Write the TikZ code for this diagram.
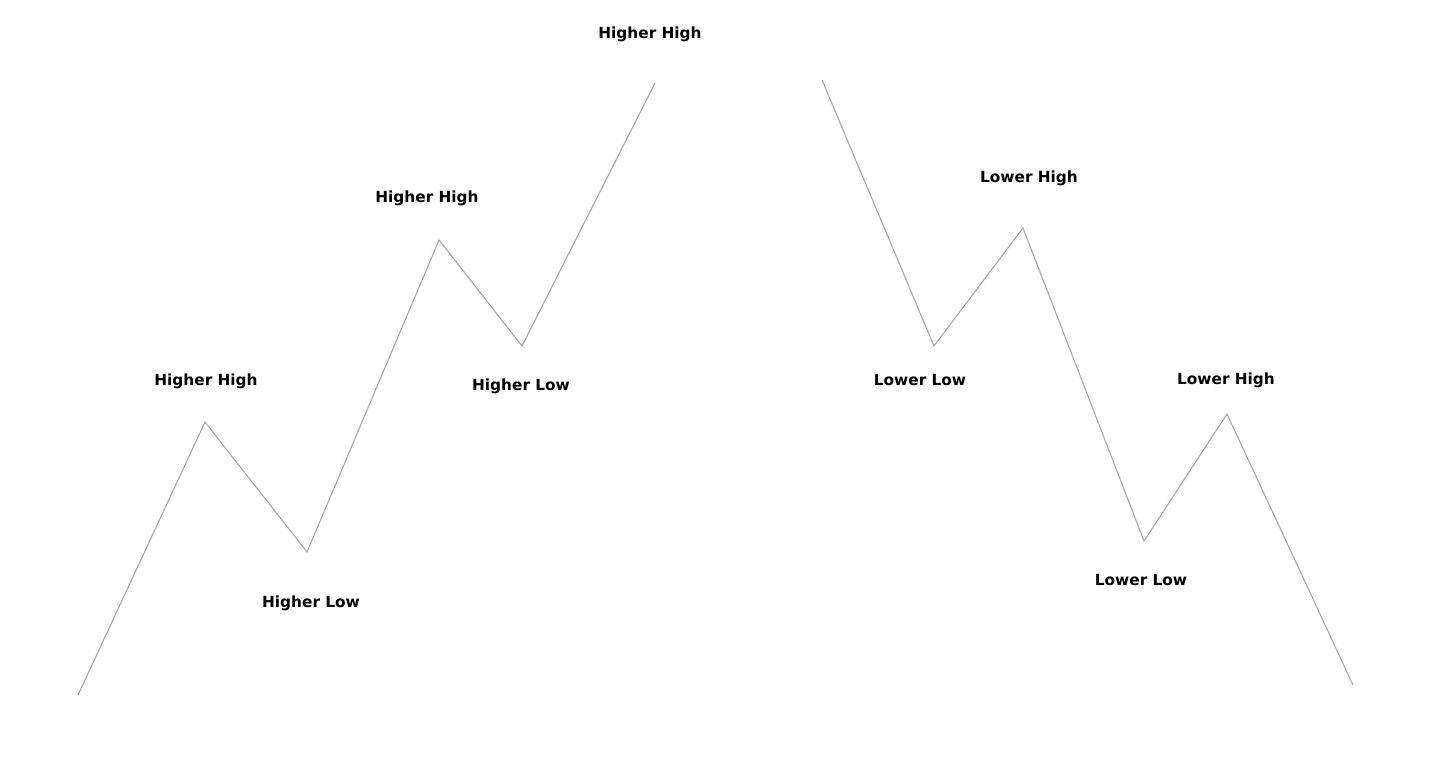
\documentclass[tikz,border=0pt]{standalone}
\usepackage{fontspec}
\setmainfont{DejaVu Sans}
\begin{document}
\begin{tikzpicture}[x=0.75pt, y=-0.75pt,
    swing/.style={draw=gray!70, line width=0.8pt},
    tag/.style={font=\bfseries\fontsize{11.5}{13}\selectfont, inner sep=0}]
  \useasboundingbox (0,0) rectangle (1432,764);

  % Uptrend
  \coordinate (up0) at (78,695);
  \coordinate (up1) at (205,422);
  \coordinate (up2) at (307,552);
  \coordinate (up3) at (439,240);
  \coordinate (up4) at (522,346);
  \coordinate (up5) at (655,83);
  \draw [swing] (up0) -- (up1) -- (up2) -- (up3) -- (up4) -- (up5);

  % Downtrend
  \coordinate (dn0) at (822,80);
  \coordinate (dn1) at (934,346);
  \coordinate (dn2) at (1023,228);
  \coordinate (dn3) at (1144,541);
  \coordinate (dn4) at (1227,414);
  \coordinate (dn5) at (1353,685);
  \draw [swing] (dn0) -- (dn1) -- (dn2) -- (dn3) -- (dn4) -- (dn5);

  % Labels
  \node [tag] (hh1) at (206,381) {Higher High};
  \node [tag] (hl1) at (311,603) {Higher Low};
  \node [tag] (hh2) at (427,198) {Higher High};
  \node [tag] (hl2) at (521,386) {Higher Low};
  \node [tag] (hh3) at (650,34) {Higher High};
  \node [tag] (ll1) at (920,380) {Lower Low};
  \node [tag] (lh1) at (1029,178) {Lower High};
  \node [tag] (ll2) at (1141,580) {Lower Low};
  \node [tag] (lh2) at (1226,380) {Lower High};
\end{tikzpicture}
\end{document}
